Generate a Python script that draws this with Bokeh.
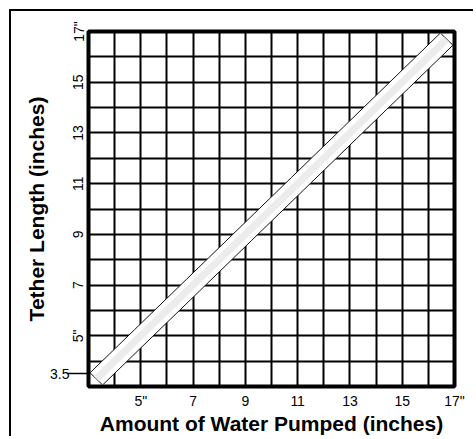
import numpy as np
from bokeh.plotting import figure
from bokeh.models import FixedTicker, LinearAxis
from bokeh.embed import file_html
from bokeh.resources import INLINE

# ---- data ----
pumped = [3.3, 5, 7, 9, 11, 13, 15, 16.7]      # water pumped (in), band centre line
tether = [3.3, 5, 7, 9, 11, 13, 15, 16.7]      # tether length (in), band centre line
band_half = 0.24                                # half-width of band (data units, along each axis)
stripe_half = 0.1                               # half-width of grey stipple stripe

x_ticks = [5, 7, 9, 11, 13, 15, 17]
x_tick_labels = ['5"', '7', '9', '11', '13', '15', '17"']
y_ticks = [5, 7, 9, 11, 13, 15, 17]
y_tick_labels = ['5"', '7', '9', '11', '13', '15', '17"']
y_extra_ticks = [3.5]
y_extra_labels = ["3.5"]
grid_x = list(range(3, 18))
grid_y = list(range(3, 18))

FONT = "Liberation Sans"

p = figure(width=464, height=427, x_range=(3, 17), y_range=(3, 17),
           output_backend="svg", toolbar_location=None,
           min_border_left=77, min_border_right=21, min_border_top=20, min_border_bottom=52,
           background_fill_color="white", border_fill_color="white")
p.styles = {"margin-left": "9px", "margin-top": "9px",
            "border-left": "2px solid black", "border-top": "2px solid black"}

p.outline_line_color = "black"
p.outline_line_width = 4
p.outline_line_alpha = 1.0

# grid: every inch
p.xgrid.ticker = FixedTicker(ticks=grid_x)
p.ygrid.ticker = FixedTicker(ticks=grid_y)
for g in (p.xgrid, p.ygrid):
    g.grid_line_color = "black"
    g.grid_line_width = 2
    g.grid_line_alpha = 1.0

# x axis
p.xaxis.ticker = FixedTicker(ticks=x_ticks)
p.xaxis.major_label_overrides = dict(zip(x_ticks, x_tick_labels))
p.xaxis.axis_label = "Amount of Water Pumped (inches)"
p.xaxis.major_label_standoff = 6
p.xaxis.axis_label_standoff = 0

# inner y axis: vertical labels
p.yaxis.ticker = FixedTicker(ticks=y_ticks)
p.yaxis.major_label_overrides = dict(zip(y_ticks, y_tick_labels))
p.yaxis.major_label_orientation = "vertical"
p.yaxis.major_label_standoff = 2

# outer y axis: the horizontal 3.5 tick + axis title
y2 = LinearAxis(ticker=FixedTicker(ticks=y_extra_ticks),
                major_label_overrides=dict(zip(y_extra_ticks, y_extra_labels)),
                axis_label="Tether Length (inches)")
p.add_layout(y2, "left")

axes = [p.xaxis[0], p.yaxis[0], y2]
for ax in axes:
    ax.axis_line_color = None
    ax.major_tick_line_color = None
    ax.minor_tick_line_color = None
    ax.major_tick_out = 0
    ax.major_tick_in = 0
    ax.minor_tick_out = 0
    ax.minor_tick_in = 0
    ax.major_label_text_font = FONT
    ax.major_label_text_font_size = "14px"
    ax.major_label_text_color = "black"
    ax.axis_label_text_font = FONT
    ax.axis_label_text_font_size = "21px"
    ax.axis_label_text_font_style = "bold"
    ax.axis_label_text_color = "black"

y2.major_tick_line_color = "black"
y2.major_tick_line_width = 1.5
y2.major_tick_in = 20
y2.major_label_standoff = -2
y2.axis_label_standoff = -1

# band
cx = np.array(pumped, dtype=float)
cy = np.array(tether, dtype=float)
bx = list(cx - band_half) + list((cx + band_half)[::-1])
by = list(cy + band_half) + list((cy - band_half)[::-1])
p.patch(bx, by, fill_color="white", line_color="#111111", line_width=1)
sx = list(cx - stripe_half) + list((cx + stripe_half)[::-1])
sy = list(cy + stripe_half) + list((cy - stripe_half)[::-1])
p.patch(sx, sy, fill_color="#e4e4e4", fill_alpha=0.7, line_color=None)

open("out.html", "w").write(file_html(p, INLINE))
